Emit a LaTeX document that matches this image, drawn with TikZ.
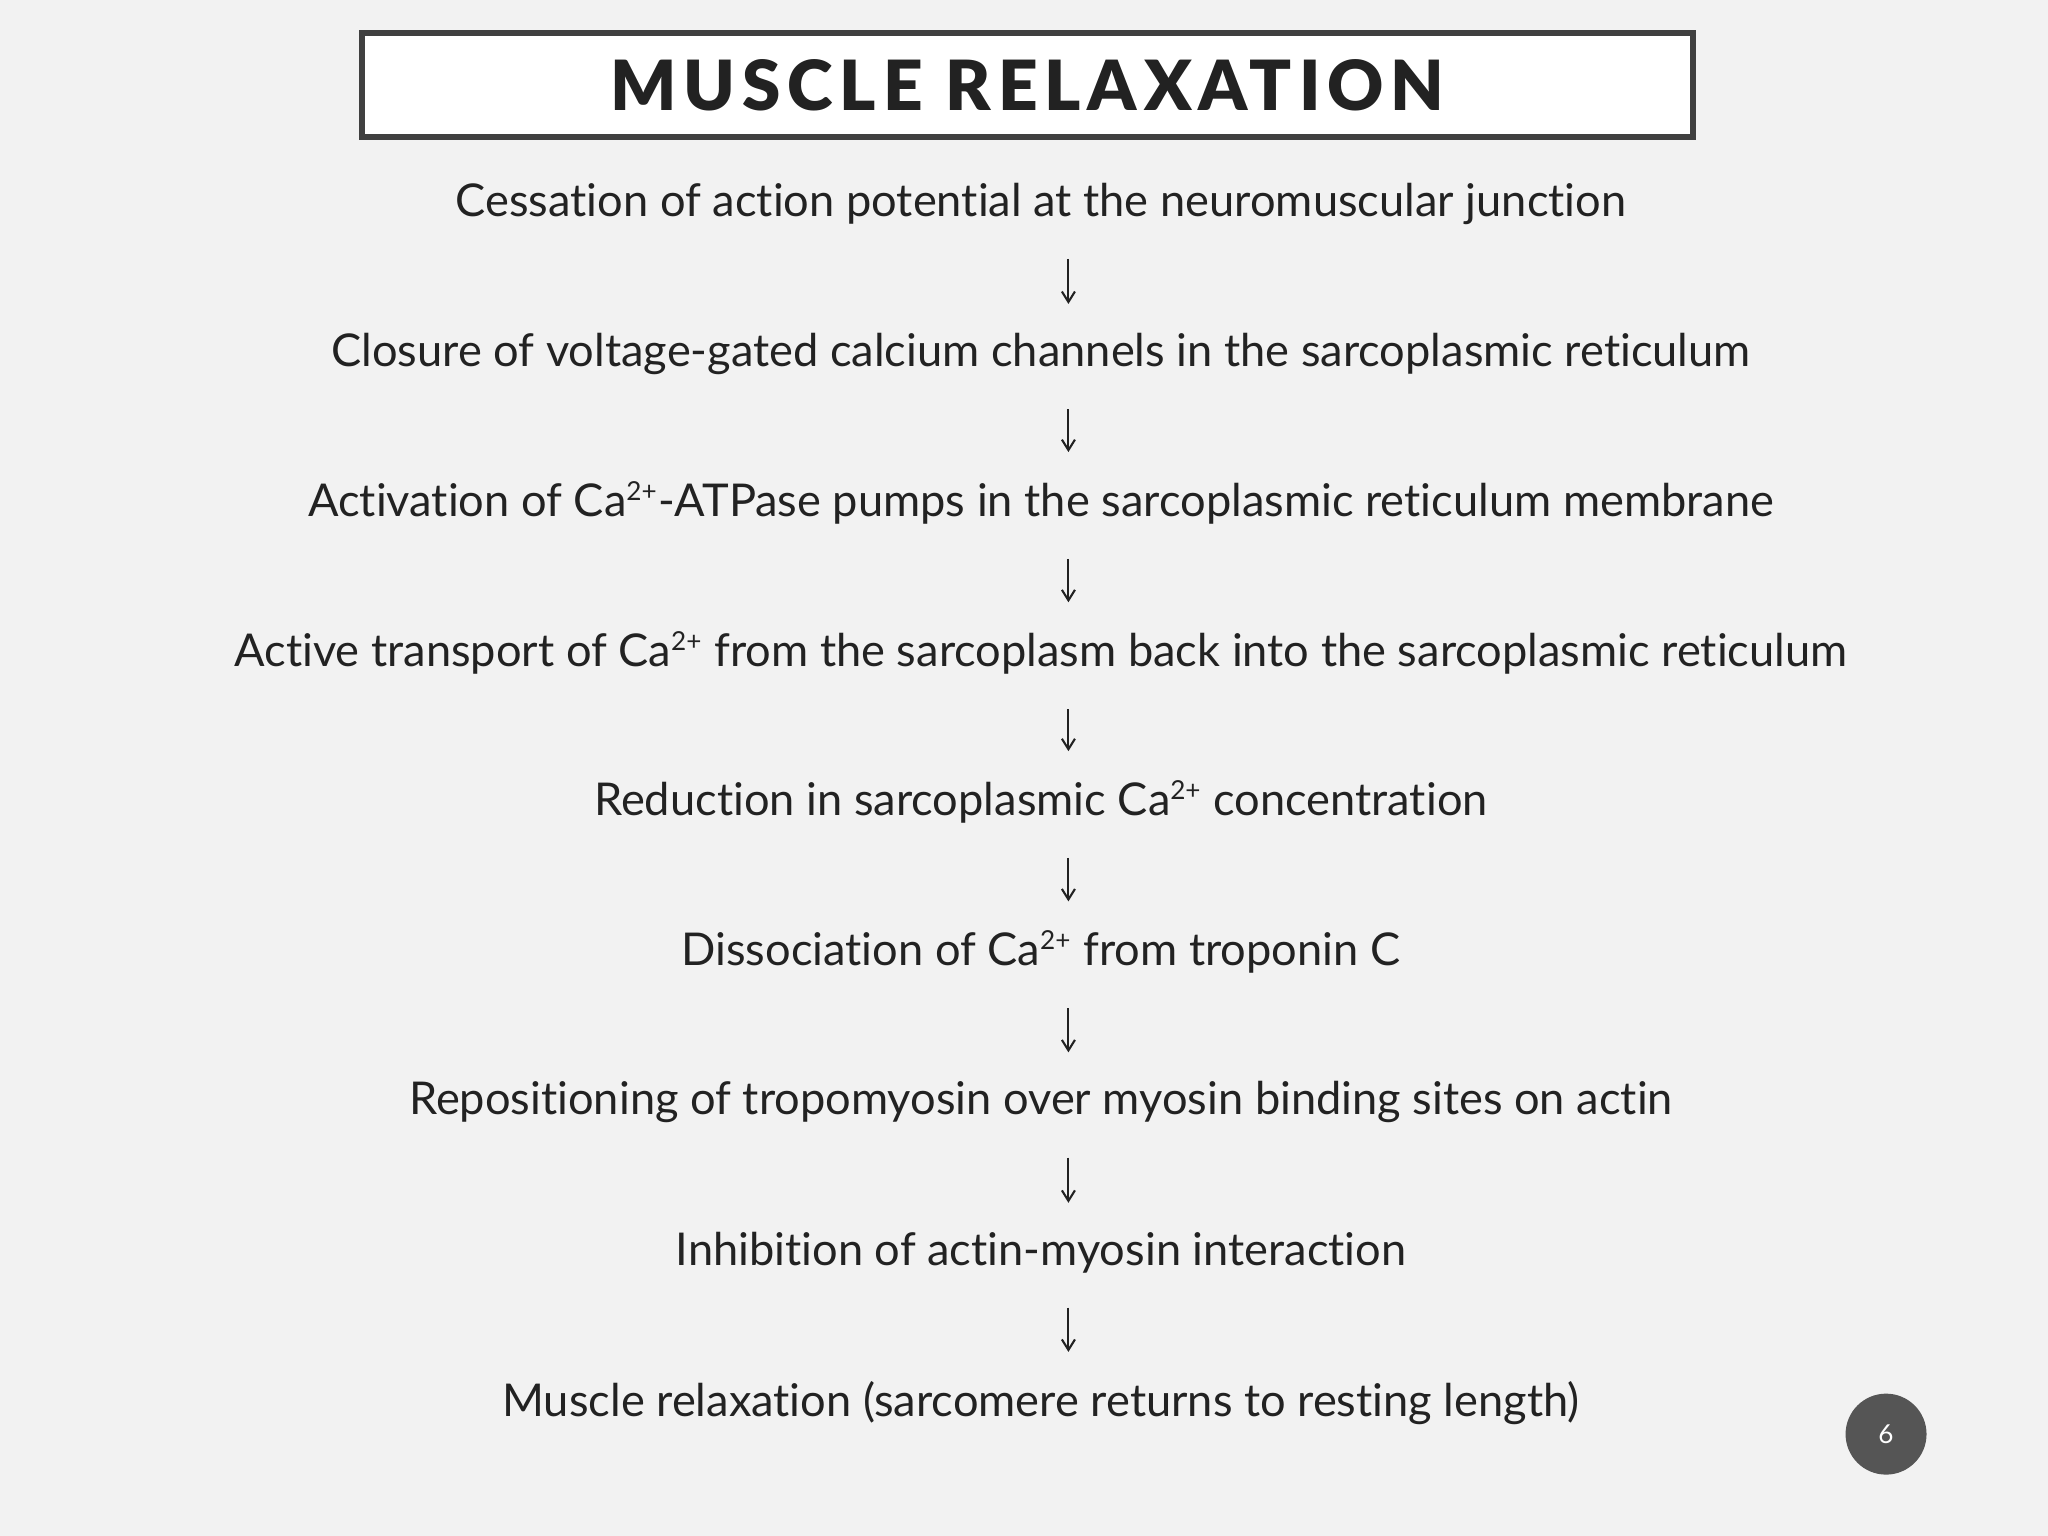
\documentclass[tikz,border=0pt]{standalone}
\usepackage{fontspec}
\usetikzlibrary{arrows.meta}
\setmainfont{Lato}[RawFeature={-liga}]
\newfontfamily\titlefont[LetterSpace=10]{Lato Black}
\definecolor{bg}{HTML}{F2F2F2}
\definecolor{ink}{HTML}{222222}
\definecolor{frame}{HTML}{404040}
\definecolor{dot}{HTML}{555555}
\newcommand{\sps}[1]{\textsuperscript{\fontsize{10}{12}\selectfont #1}}
\begin{document}
\begin{tikzpicture}[x=0.5pt,y=-0.5pt,
  stepnode/.style={text=ink,font=\fontsize{17.3}{20}\selectfont,inner sep=0pt,anchor=center},
  flow/.style={draw=ink,line width=0.8pt,-{Straight Barb[length=4pt,width=5pt]},shorten >=11pt,shorten <=13pt}]
\fill[bg] (0,0) rectangle (1568,1176);
\useasboundingbox (0,0) rectangle (1568,1176);
\node[draw=frame,line width=2.2pt,fill=white,minimum width=1019*0.5pt,minimum height=80*0.5pt,inner sep=0pt,text=ink,font=\titlefont\fontsize{26.5}{30}\selectfont] (title) at (786.5,65) {MUSCLE RELAXATION};
\node[stepnode] (s1) at (797,156) {Cessation of action potential at the neuromuscular junction};
\node[stepnode] (s2) at (797,271) {Closure of voltage-gated calcium channels in the sarcoplasmic reticulum};
\node[stepnode] (s3) at (797,385) {Activation of Ca\sps{2+}-ATPase pumps in the sarcoplasmic reticulum membrane};
\node[stepnode] (s4) at (797,500) {Active transport of Ca\sps{2+} from the sarcoplasm back into the sarcoplasmic reticulum};
\node[stepnode] (s5) at (797,614) {Reduction in sarcoplasmic Ca\sps{2+} concentration};
\node[stepnode] (s6) at (797,729) {Dissociation of Ca\sps{2+} from troponin C};
\node[stepnode] (s7) at (797,844) {Repositioning of tropomyosin over myosin binding sites on actin};
\node[stepnode] (s8) at (797,959) {Inhibition of actin-myosin interaction};
\node[stepnode] (s9) at (797,1074) {Muscle relaxation (sarcomere returns to resting length)};
\foreach \a/\b in {s1/s2,s2/s3,s3/s4,s4/s5,s5/s6,s6/s7,s7/s8,s8/s9}
  \draw[flow] ([xshift=10.5pt]\a.south) -- ([xshift=10.5pt]\b.north);
\node[circle,fill=dot,minimum size=31pt,inner sep=0pt,text=white,font=\fontsize{10}{12}\selectfont] (pg) at (1444,1098) {6};
\end{tikzpicture}
\end{document}
